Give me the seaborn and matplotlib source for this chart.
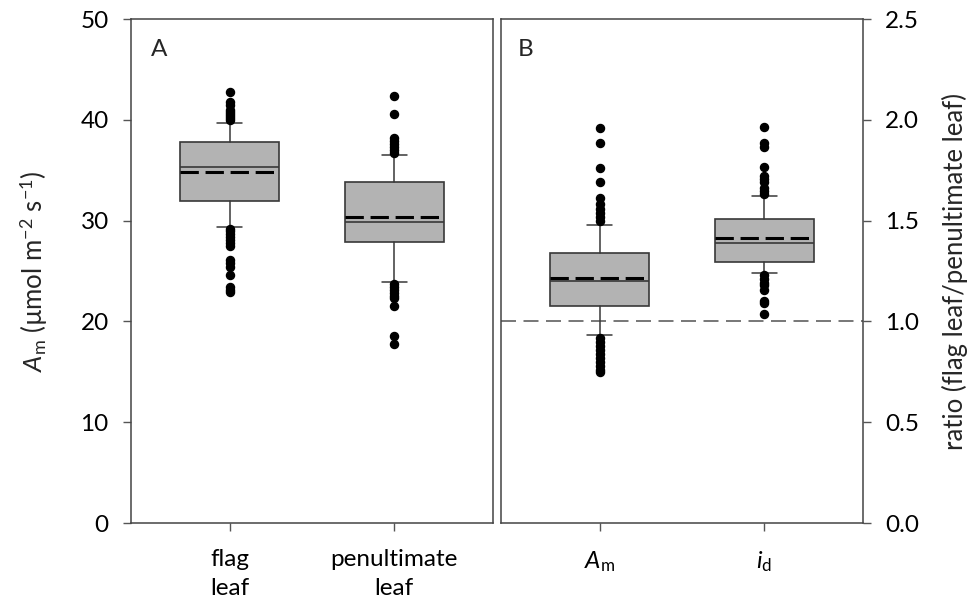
import matplotlib
matplotlib.use("Agg")
import matplotlib.pyplot as plt
import seaborn as sns

sns.set_theme(style="ticks")
plt.rcParams["font.family"] = ["Lato", "DejaVu Sans"]
plt.rcParams["mathtext.fontset"] = "custom"
plt.rcParams["mathtext.rm"] = "Lato"
plt.rcParams["mathtext.it"] = "Lato:italic"

# ---------------------------------------------------------------------------
# data
# ---------------------------------------------------------------------------
# panel A: light-saturated photosynthesis (umol m-2 s-1)
leaf_labels = ["flag\nleaf", "penultimate\nleaf"]
leaf_q1 = [31.9, 27.9]
leaf_median = [35.3, 29.9]
leaf_q3 = [37.8, 33.8]
leaf_whislo = [29.4, 23.9]
leaf_whishi = [39.7, 36.5]
leaf_mean = [34.8, 30.4]
leaf_fliers = [
    [40.0, 40.2, 40.4, 40.6, 40.8, 41.0, 41.5, 41.8, 42.8,
     29.2, 29.0, 28.7, 28.4, 28.1, 27.8, 27.5, 26.1, 25.8, 25.4, 24.6, 23.4, 23.1, 22.9],
    [36.7, 37.0, 37.3, 37.6, 37.9, 38.2, 40.6, 42.4,
     23.7, 23.4, 23.1, 22.8, 22.5, 22.3, 21.5, 18.6, 17.8],
]

# panel B: ratio flag leaf / penultimate leaf
ratio_labels = [r"$\mathit{A}_\mathrm{m}$", r"$\mathit{i}_\mathrm{d}$"]
ratio_q1 = [1.076, 1.295]
ratio_median = [1.20, 1.389]
ratio_q3 = [1.339, 1.508]
ratio_whislo = [0.933, 1.24]
ratio_whishi = [1.478, 1.622]
ratio_mean = [1.216, 1.414]
ratio_fliers = [
    [1.50, 1.52, 1.54, 1.56, 1.58, 1.61, 1.69, 1.76, 1.885, 1.96,
     0.92, 0.90, 0.88, 0.86, 0.84, 0.82, 0.80, 0.78, 0.76, 0.75],
    [1.63, 1.645, 1.66, 1.69, 1.705, 1.72, 1.766, 1.865, 1.885, 1.965,
     1.23, 1.21, 1.19, 1.18, 1.156, 1.10, 1.09, 1.037],
]
ratio_reference = 1.0

EDGE = "#383838"
BOX_FILL = "#b3b3b3"
TICK_FS = 17.5
LABEL_FS = 18.5


def make_stats(labels, q1, med, q3, lo, hi, mean, fliers):
    return [
        dict(label=labels[i], q1=q1[i], med=med[i], q3=q3[i],
             whislo=lo[i], whishi=hi[i], mean=mean[i], fliers=fliers[i])
        for i in range(len(labels))
    ]


def draw_boxes(ax, stats):
    ax.bxp(
        stats, positions=[0, 1], widths=0.6, capwidths=0.15,
        patch_artist=True, showmeans=True, meanline=True,
        boxprops=dict(facecolor=BOX_FILL, edgecolor=EDGE, linewidth=1.2),
        medianprops=dict(color=EDGE, linewidth=1.2),
        meanprops=dict(color="black", linewidth=2.2, linestyle=(0, (6, 2.2))),
        whiskerprops=dict(color=EDGE, linewidth=1.1),
        capprops=dict(color=EDGE, linewidth=1.1),
        flierprops=dict(marker="o", markerfacecolor="black", markeredgecolor="black",
                        markersize=5.8, linestyle="none"),
    )


def style_axes(ax, labels):
    for sp in ax.spines.values():
        sp.set_color("#444444")
        sp.set_linewidth(1.1)
    ax.set_xlim(-0.6, 1.6)
    ax.set_xticks([0, 1])
    ax.set_xticklabels(labels, linespacing=1.45)
    ax.tick_params(axis="both", direction="out", length=6, width=1, color="#555555",
                   labelsize=TICK_FS, labelcolor="black")
    ax.tick_params(axis="x", pad=13)
    ax.tick_params(axis="y", pad=10)
    ax.grid(False)


fig = plt.figure(figsize=(9.7, 6.06), dpi=100)
axA = fig.add_axes([131 / 970, 83 / 606, 362 / 970, 504 / 606])
axB = fig.add_axes([501 / 970, 83 / 606, 362 / 970, 504 / 606])

# --- panel A
draw_boxes(axA, make_stats(leaf_labels, leaf_q1, leaf_median, leaf_q3,
                           leaf_whislo, leaf_whishi, leaf_mean, leaf_fliers))
axA.set_ylim(0, 50)
axA.set_yticks([0, 10, 20, 30, 40, 50])
axA.set_ylabel(r"$\mathit{A}_\mathrm{m}$ (µmol m$^{-2}$ s$^{-1}$)", fontsize=LABEL_FS, labelpad=22)
axA.text(0.055, 0.94, "A", transform=axA.transAxes, fontsize=TICK_FS, va="center")
style_axes(axA, leaf_labels)

# --- panel B
axB.axhline(ratio_reference, color="#606060", linewidth=1.2, linestyle=(0, (9, 4.5)), zorder=1)
draw_boxes(axB, make_stats(ratio_labels, ratio_q1, ratio_median, ratio_q3,
                           ratio_whislo, ratio_whishi, ratio_mean, ratio_fliers))
axB.set_ylim(0, 2.5)
axB.set_yticks([0, 0.5, 1.0, 1.5, 2.0, 2.5])
axB.set_yticklabels([f"{v:.1f}" for v in [0, 0.5, 1.0, 1.5, 2.0, 2.5]])
axB.yaxis.tick_right()
axB.yaxis.set_label_position("right")
axB.set_ylabel("ratio (flag leaf/penultimate leaf)", fontsize=LABEL_FS, labelpad=16)
axB.text(0.045, 0.94, "B", transform=axB.transAxes, fontsize=TICK_FS, va="center")
style_axes(axB, ratio_labels)

fig.savefig("out.png", dpi=100)
